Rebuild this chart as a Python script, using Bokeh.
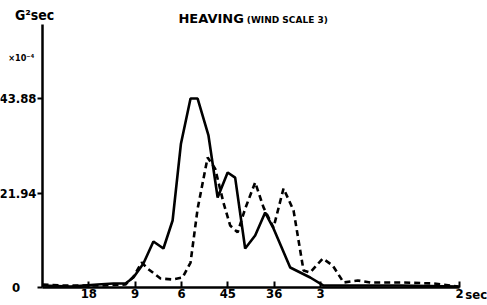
from bokeh.plotting import figure
from bokeh.models import Range1d, FixedTicker, Label
from bokeh.embed import file_html
from bokeh.resources import INLINE

# frequency (1/sec) and spectral density (x10^-4 G^2 sec)
solid_f = [0.0, 0.034, 0.066, 0.085, 0.0995, 0.109, 0.121, 0.133, 0.145, 0.156, 0.166,
           0.1775, 0.186, 0.199, 0.210, 0.222, 0.231, 0.243, 0.255, 0.267, 0.277,
           0.297, 0.321, 0.337, 0.381, 0.429, 0.5]
solid_v = [0.46, 0.23, 0.70, 0.93, 0.93, 2.32, 5.57, 10.68, 9.06, 15.56, 33.4,
           43.88, 43.88, 35.3, 20.9, 26.7, 25.5, 9.06, 12.07, 17.4, 13.7,
           4.64, 2.32, 0.46, 0.46, 0.46, 0.23]

dash_f = [0.0, 0.022, 0.045, 0.0695, 0.0995, 0.109, 0.119, 0.126, 0.1415, 0.156, 0.168,
          0.1775, 0.186, 0.198, 0.207, 0.217, 0.225, 0.234, 0.243, 0.255, 0.265,
          0.277, 0.289, 0.301, 0.313, 0.321, 0.336, 0.348, 0.361, 0.378, 0.393,
          0.433, 0.469, 0.498]
dash_v = [0.70, 0.46, 0.46, 0.46, 0.70, 2.5, 5.8, 4.4, 2.09, 1.86, 2.32,
          5.8, 18.3, 30.2, 27.6, 19.7, 14.4, 12.8, 18.3, 24.4, 18.6,
          13.9, 23.0, 17.9, 3.95, 3.48, 6.73, 5.11, 1.16, 1.63, 1.16,
          1.16, 0.93, 0.23]

x_ticks = [1/18, 1/9, 1/6, 1/4.5, 1/3.6, 1/3, 1/2]
x_tick_labels = ["18", "9", "6", "45", "36", "3", "2"]
y_ticks = [0, 21.94, 43.88]
y_tick_labels = ["0\u2007\u2007", "21.94", "43.88"]

FONT = "DejaVu Sans Condensed"

# page 0..487 x, 0..305 y ; axis origin at page (42, 287); 834 px per 1/sec ; 0.2322 units per px
p = figure(width=487, height=305, output_backend="svg", toolbar_location=None,
           x_range=Range1d(-42 / 834, 445 / 834), y_range=Range1d(-18 * 0.2322, 287 * 0.2322),
           min_border_left=0, min_border_right=0, min_border_top=0, min_border_bottom=0)
p.outline_line_color = None
p.xgrid.visible = False
p.ygrid.visible = False
p.background_fill_color = "white"
p.border_fill_color = "white"

p.line(solid_f, solid_v, line_color="black", line_width=2.6)
p.line(dash_f, dash_v, line_color="black", line_width=2.6, line_dash="6 4")

xa = p.xaxis[0]
xa.fixed_location = 0
xa.bounds = (0.0, 0.5)
xa.ticker = FixedTicker(ticks=x_ticks)
xa.major_label_overrides = {t: l for t, l in zip(x_ticks, x_tick_labels)}
xa.axis_line_width = 2.5
xa.axis_line_color = "black"
xa.major_tick_in = 6
xa.major_tick_out = 0
xa.major_tick_line_width = 2
xa.minor_tick_line_color = None
xa.major_label_standoff = 1
xa.major_label_text_font = FONT
xa.major_label_text_font_style = "bold"
xa.major_label_text_font_size = "13px"
xa.major_label_text_color = "black"

ya = p.yaxis[0]
ya.fixed_location = 0
ya.bounds = (0.0, 61.0)
ya.ticker = FixedTicker(ticks=y_ticks)
ya.major_label_overrides = {t: l for t, l in zip(y_ticks, y_tick_labels)}
ya.axis_line_width = 2.5
ya.axis_line_color = "black"
ya.major_tick_in = 0
ya.major_tick_out = 5
ya.major_tick_line_width = 2
ya.minor_tick_line_color = None
ya.major_label_standoff = 1
ya.major_label_text_font = FONT
ya.major_label_text_font_style = "bold"
ya.major_label_text_font_size = "13px"
ya.major_label_text_color = "black"

def lab(x, y, text, size, font=FONT, **kw):
    p.add_layout(Label(x=x, y=y, text=text, text_font=font, text_font_style="bold",
                       text_font_size=size, text_color="black", **kw))

lab(0.163, 62.4, "HEAVING", "13px", font="DejaVu Sans", text_baseline="middle")
lab(0.245, 62.2, "(WIND SCALE 3)", "9px", font="DejaVu Sans", text_baseline="middle")
lab(-0.033, 63.3, "G²sec", "14px", text_baseline="middle")
lab(-0.041, 53.4, "×10⁻⁴", "9px", text_baseline="middle")
lab(0.507, -1.7, "sec", "13px", text_baseline="middle")

open("out.html", "w").write(file_html(p, INLINE))
